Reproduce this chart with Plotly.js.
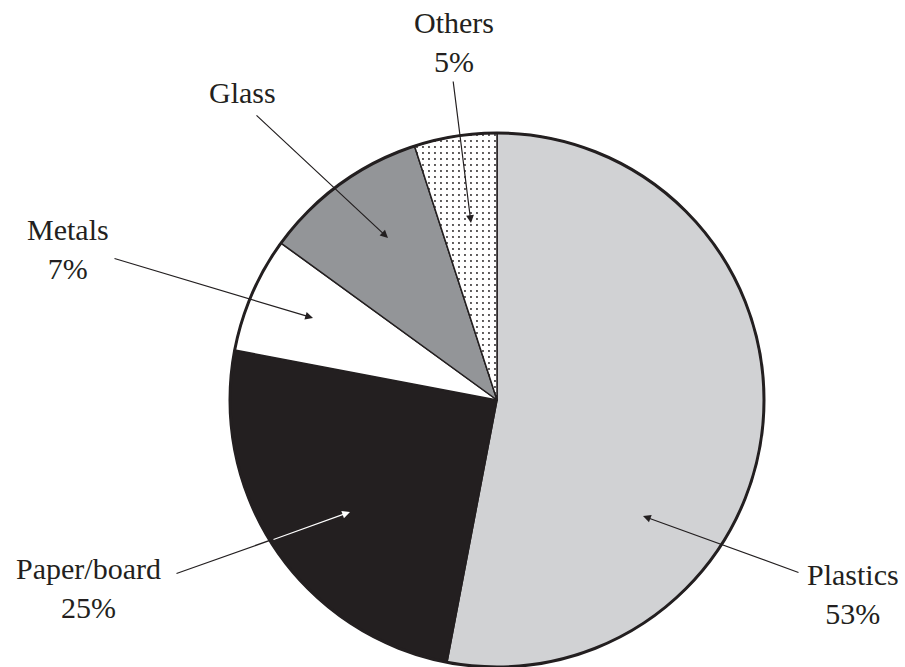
<!DOCTYPE html>
<html>
<head>
<meta charset="utf-8">
<script src="https://cdn.plot.ly/plotly-3.0.1.min.js"></script>
<style>html,body{margin:0;padding:0;background:#fff;}#chart{width:905px;height:667px;}</style>
</head>
<body>
<div id="chart"></div>
<script>
// ---- data ----
const categories = ["Plastics", "Paper/board", "Metals", "Glass", "Others"];
const shares = [53, 25, 7, 10, 5];
const shareLabels = ["53%", "25%", "7%", "", "5%"];
const sliceColors = ["#d1d2d4", "#231f20", "#ffffff", "#939598", "#ffffff"];
const slicePatterns = ["", "", "", "", "."];

// ---- layout helpers ----
const W = 905, H = 667;
const px = x => x / W;
const py = y => 1 - y / H;
const FONT = "Liberation Serif";
const FS = 30;

// pie geometry (pixels)
const cx = 497, cy = 400, R = 267;
const dom = {x: [px(cx - R), px(cx + R)], y: [py(cy + R), py(cy - R)]};

// label placement: [centerX, baseline line1, baseline line2]
const labelPos = {
  "Plastics": [853, 589, 618],
  "Paper/board": [88, 583, 612],
  "Metals": [68, 244, 273],
  "Glass": [242, 102, null],
  "Others": [454, 28, 59]
};
// arrows: [tailX, tailY, headX, headY, color]
const arrows = [
  [800, 573, 643, 516, "#231f20"],
  [175, 574, 350, 512, "#231f20"],
  [272, 540, 350, 512, "#ffffff"],
  [113, 258, 313, 318, "#231f20"],
  [255, 114, 388, 238, "#231f20"],
  [453, 80, 471, 223, "#231f20"]
];

const annotations = [];
categories.forEach((c, i) => {
  const p = labelPos[c];
  const two = shareLabels[i] && p[2] != null;
  const text = two ? c + "<br>" + shareLabels[i] : c;
  const midBase = two ? (p[1] + p[2]) / 2 : p[1];
  const half = two ? FS * 1.3 : FS * 0.65;
  const center = Math.max(midBase - 10, half + 3);
  annotations.push({
    xref: "paper", yref: "paper",
    x: px(p[0]), y: py(center),
    xanchor: "center", yanchor: "middle",
    align: "center",
    text: text, showarrow: false,
    font: {family: FONT, size: FS, color: "#231f20"}
  });
});
arrows.forEach(a => {
  annotations.push({
    xref: "paper", yref: "paper",
    x: px(a[2]), y: py(a[3]),
    ax: a[0] - a[2], ay: a[1] - a[3],
    text: "", showarrow: true,
    arrowhead: 2, arrowsize: 1.3, arrowwidth: 1.2,
    arrowcolor: a[4], standoff: 0, startstandoff: 0
  });
});

const traces = [
  {
    type: "pie",
    labels: categories,
    values: shares,
    sort: false,
    direction: "clockwise",
    rotation: 0,
    domain: dom,
    textinfo: "none",
    hoverinfo: "label+percent",
    marker: {
      colors: sliceColors,
      line: {color: "#231f20", width: 1.5},
      pattern: {shape: slicePatterns, fgcolor: "#231f20", bgcolor: "#ffffff", size: 6, solidity: 0.08}
    },
    showlegend: false
  },
  {
    type: "pie",
    labels: ["outline"],
    values: [1],
    sort: false,
    domain: dom,
    textinfo: "none",
    hoverinfo: "skip",
    marker: {colors: ["rgba(0,0,0,0)"], line: {color: "#231f20", width: 3}},
    showlegend: false
  }
];

const layout = {
  width: W, height: H,
  margin: {l: 0, r: 0, t: 0, b: 0},
  paper_bgcolor: "#ffffff",
  plot_bgcolor: "#ffffff",
  showlegend: false,
  annotations: annotations
};

Plotly.newPlot("chart", traces, layout, {displayModeBar: false, staticPlot: true});
</script>
</body>
</html>
